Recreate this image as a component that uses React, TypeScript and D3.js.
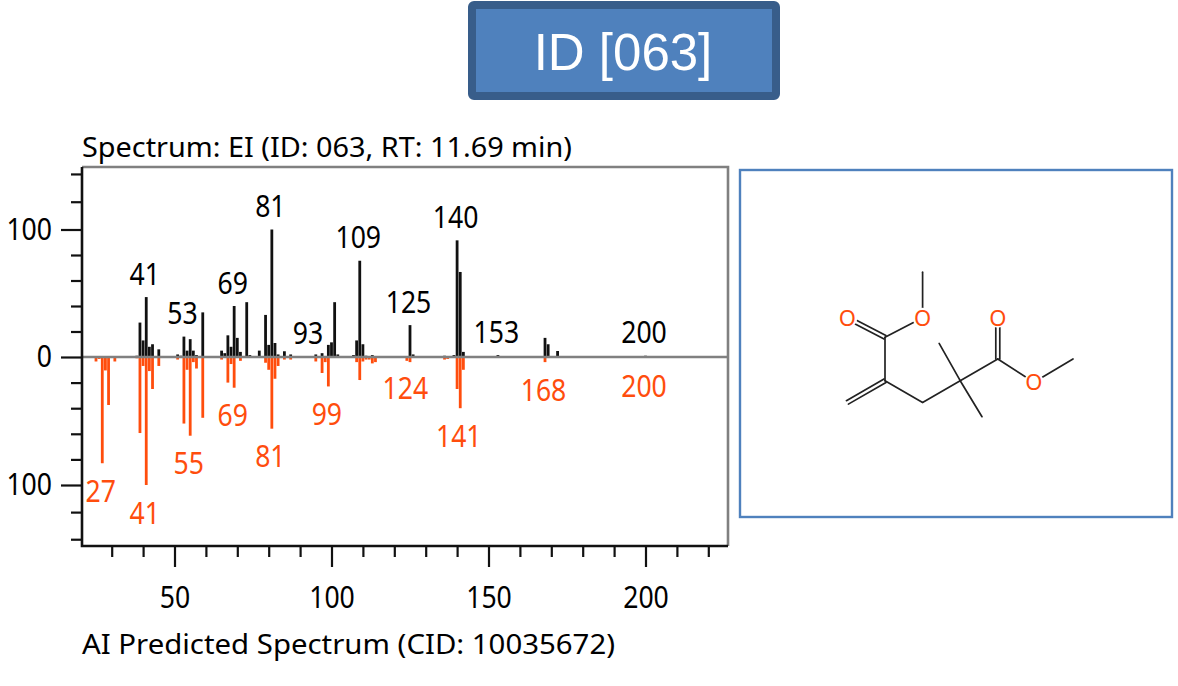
import { useEffect, useRef } from "react"
import * as d3 from "d3"

// measured spectrum, top half
const measuredMz = [38, 39, 40, 41, 42, 43, 45, 51, 52, 53, 54, 55, 56, 57, 59, 65, 66, 67, 68, 69, 70, 71, 73, 74, 77, 79, 80, 81, 82, 83, 85, 87, 93, 95, 97, 99, 100, 101, 102, 107, 108, 109, 110, 111, 113, 125, 126, 136, 139, 140, 141, 142, 153, 168, 169, 172, 200]
const measuredInt = [1, 27, 13, 47, 8, 10, 6, 2, 1, 16, 5, 14, 5, 1.5, 35, 5, 3, 17, 8, 40, 15, 4, 43, 1.5, 5, 33, 9.5, 100, 11, 2, 4.5, 2, 0.5, 2, 3, 9.5, 11.5, 43, 2, 1.5, 13, 75.5, 10, 1, 1.5, 25, 2, 1, 1.5, 91.5, 66.7, 4, 1.5, 15, 10, 4.7, 1]
const measuredLabels = [41, 53, 69, 81, 93, 109, 125, 140, 153, 200]

// predicted spectrum, mirrored below
const predictedMz = [25, 26, 27, 28, 29, 31, 38, 39, 40, 41, 42, 43, 45, 51, 53, 54, 55, 56, 57, 59, 65, 67, 68, 69, 71, 79, 80, 81, 82, 83, 85, 87, 95, 97, 98, 99, 108, 109, 110, 111, 112, 113, 114, 124, 125, 136, 137, 140, 141, 142, 168]
const predictedInt = [3.5, 1.5, 83, 10.5, 37.5, 3.5, 1, 59.4, 7, 100, 11, 25, 7, 2, 52, 10, 61.5, 4, 9, 47.5, 2, 20, 5.5, 24, 3, 4.5, 10, 56, 17, 7, 2, 2, 3.5, 12.5, 4, 23, 4, 18, 3.5, 2, 2, 5, 4, 3, 4, 2, 1.5, 25, 40, 10, 4]
const predictedLabels = [27, 41, 55, 69, 81, 99, 124, 141, 168, 200]

const xMajor = [50, 100, 150, 200]
const xMinor = [30, 40, 60, 70, 80, 90, 110, 120, 130, 140, 160, 170, 180, 190, 210, 220]
const yMajor = [-100, 0, 100]
const yMinor = [-140, -120, -80, -60, -40, -20, 20, 40, 60, 80, 120, 140]

// structure drawing, in bond-grid units
const atoms: Record<string, [number, number]> = {
  me1: [1, -3], o1: [1, -0.9], c1: [0, 0], o2: [-1, -0.9], c2: [0, 2], ch2a: [-1, 3], ch2: [1, 3],
  cq: [2, 2], mea: [1.44, 0.28], meb: [2.58, 3.66], c3: [3, 1], o3: [3, -0.9], o4: [3.96, 2.07], me4: [5, 1],
}
const singleBonds = [["me1", "o1"], ["o1", "c1"], ["c1", "c2"], ["c2", "ch2"], ["ch2", "cq"], ["cq", "mea"], ["cq", "meb"], ["cq", "c3"], ["c3", "o4"], ["o4", "me4"]]
const doubleBonds = [["c1", "o2"], ["c2", "ch2a"], ["c3", "o3"]]
const oxygens = ["o1", "o2", "o3", "o4"]

const ORANGE = "#ff4d0d"
const GRAY = "#808080"
const SANS = "'Noto Sans', sans-serif"
const DIGIT_W = 15.2

export default function App() {
  const svgRef = useRef<SVGSVGElement>(null)

  useEffect(() => {
    if (!svgRef.current) return
    const svg = d3.select(svgRef.current)
    svg.selectAll("*").remove()

    const left = 82
    const right = 728
    const top = 167
    const bottom = 546

    const x = d3.scaleLinear().domain([50, 200]).range([174.5, 645.5])
    const y = d3.scaleLinear().domain([-145, -100, 0, 100, 145]).range([bottom, 485, 357, 229.5, top])

    // header box
    svg.append("rect").attr("x", 472).attr("y", 5).attr("width", 304).attr("height", 91)
      .attr("rx", 2).attr("fill", "#4f81bd").attr("stroke", "#385d8a").attr("stroke-width", 8)
    svg.append("text").attr("x", 623).attr("y", 70).attr("text-anchor", "middle")
      .style("font-family", "'Liberation Sans', sans-serif").style("font-size", "51px").attr("fill", "#fff")
      .text("ID [063]")

    // plot frame
    svg.append("path").attr("d", `M${left},${top}H${right}V${bottom}`)
      .attr("fill", "none").attr("stroke", GRAY).attr("stroke-width", 2.6)

    const textAt = (px: number, py: number, s: string, width: number, color = "#000", anchor = "start", size = 28) =>
      svg.append("text").attr("x", px).attr("y", py).attr("text-anchor", anchor)
        .attr("textLength", width).attr("lengthAdjust", "spacingAndGlyphs")
        .style("font-family", SANS).style("font-size", `${size}px`).attr("fill", color).text(s)

    // bars
    svg.append("g").selectAll("line").data(predictedMz).join("line")
      .attr("x1", d => x(d)).attr("x2", d => x(d))
      .attr("y1", y(0)).attr("y2", (_, i) => y(-predictedInt[i]))
      .attr("stroke", ORANGE).attr("stroke-width", 2.8)
    svg.append("g").selectAll("line").data(measuredMz).join("line")
      .attr("x1", d => x(d)).attr("x2", d => x(d))
      .attr("y1", y(0)).attr("y2", (_, i) => y(measuredInt[i]))
      .attr("stroke", "#111").attr("stroke-width", 2.8)
    svg.append("line").attr("x1", left).attr("x2", right).attr("y1", y(0)).attr("y2", y(0))
      .attr("stroke", GRAY).attr("stroke-width", 2.6)

    // peak labels
    measuredLabels.forEach(mz => {
      const v = measuredInt[measuredMz.indexOf(mz)]
      textAt(x(mz) - 1.5, y(v) - 12.5, String(mz), String(mz).length * DIGIT_W, "#000", "middle", 31)
    })
    predictedLabels.forEach(mz => {
      const i = predictedMz.indexOf(mz)
      const v = i < 0 ? 1 : predictedInt[i]
      textAt(x(mz) - 1.5, y(-v) + 38.5, String(mz), String(mz).length * DIGIT_W, ORANGE, "middle", 31)
    })

    // axes
    const gx = svg.append("g").attr("transform", `translate(0,${bottom})`)
    gx.append("g").call(d3.axisBottom(x).tickValues(xMinor).tickSize(11).tickFormat(() => ""))
    gx.append("g").call(d3.axisBottom(x).tickValues(xMajor).tickSize(21).tickPadding(19).tickFormat(d => String(d)))
    const gy = svg.append("g").attr("transform", `translate(${left},0)`)
    gy.append("g").call(d3.axisLeft(y).tickValues(yMinor).tickSize(11).tickFormat(() => ""))
    gy.append("g").call(d3.axisLeft(y).tickValues(yMajor).tickSize(21).tickPadding(9).tickFormat(d => String(Math.abs(d as number))))
    svg.selectAll(".domain").remove()
    svg.selectAll(".tick line").attr("stroke", "#111").attr("stroke-width", 2.2)
    svg.selectAll<SVGTextElement, number>(".tick text")
      .style("font-family", SANS).style("font-size", "31px").attr("fill", "#000")
      .attr("lengthAdjust", "spacingAndGlyphs")
      .attr("textLength", function () { return (this.textContent || "").length * DIGIT_W || null })
    svg.append("path").attr("d", `M${left},${top}V${bottom}H${right}`)
      .attr("fill", "none").attr("stroke", "#111").attr("stroke-width", 2.6)

    // captions
    textAt(left, 157, "Spectrum: EI (ID: 063, RT: 11.69 min)", 490)
    textAt(left, 654, "AI Predicted Spectrum (CID: 10035672)", 533)

    // structure panel
    svg.append("rect").attr("x", 740).attr("y", 170).attr("width", 432).attr("height", 347)
      .attr("fill", "#fff").attr("stroke", "#4f81bd").attr("stroke-width", 2.4)

    const sx = d3.scaleLinear().domain([0, 5]).range([885, 1073])
    const sy = d3.scaleLinear().domain([0, 3]).range([337.3, 402.4])
    const mol = svg.append("g").attr("stroke", "#222").attr("stroke-width", 1.7).attr("stroke-linecap", "round")
    singleBonds.forEach(([a, b]) => {
      mol.append("line").attr("x1", sx(atoms[a][0])).attr("y1", sy(atoms[a][1]))
        .attr("x2", sx(atoms[b][0])).attr("y2", sy(atoms[b][1]))
    })
    doubleBonds.forEach(([a, b]) => {
      const x1 = sx(atoms[a][0]), y1 = sy(atoms[a][1]), x2 = sx(atoms[b][0]), y2 = sy(atoms[b][1])
      const len = Math.hypot(x2 - x1, y2 - y1)
      const ox = ((y2 - y1) / len) * 2, oy = (-(x2 - x1) / len) * 2
      ;[1, -1].forEach(s => {
        mol.append("line").attr("x1", x1 + s * ox).attr("y1", y1 + s * oy)
          .attr("x2", x2 + s * ox).attr("y2", y2 + s * oy)
      })
    })
    oxygens.forEach(k => {
      const [u, v] = atoms[k]
      svg.append("circle").attr("cx", sx(u)).attr("cy", sy(v)).attr("r", 10).attr("fill", "#fff")
      svg.append("text").attr("x", sx(u)).attr("y", sy(v) + 8).attr("text-anchor", "middle")
        .style("font-family", SANS).style("font-size", "22px").attr("fill", ORANGE).text("O")
    })
  }, [])

  return (
    <div style={{ position: "absolute", left: 0, top: 0 }}>
      <svg ref={svgRef} width={1178} height={686} style={{ display: "block", background: "#fff" }} />
    </div>
  )
}
